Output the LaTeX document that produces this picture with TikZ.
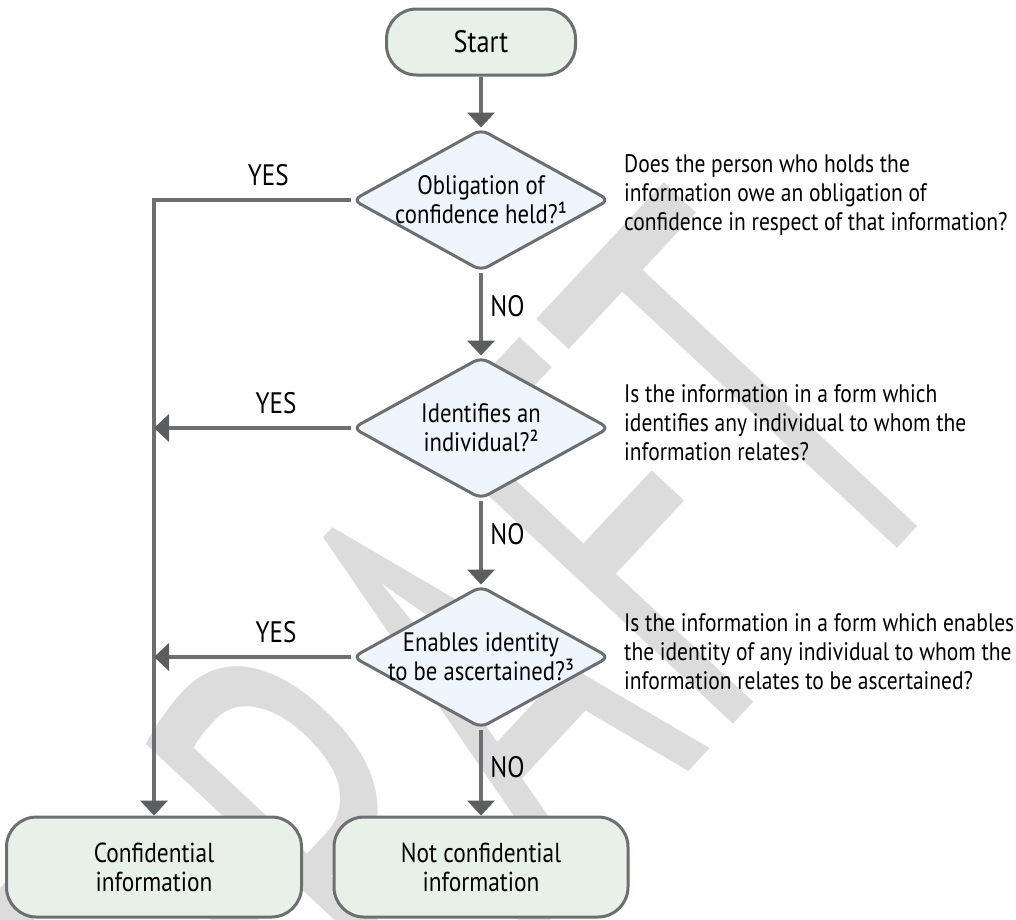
\documentclass[tikz,border=0pt]{standalone}
\usepackage{fontspec}
\setmainfont{PT Sans}[FakeStretch=0.85]
\newfontfamily\wmfont{PT Sans}[FakeStretch=0.6]
\usetikzlibrary{shapes.geometric,arrows.meta,positioning}
\definecolor{linegray}{HTML}{6D6E71}
\definecolor{tipgray}{HTML}{5B5D61}
\definecolor{askfill}{HTML}{EFF5FC}
\definecolor{endfill}{HTML}{E8F1E8}
\definecolor{wmgray}{HTML}{DCDCDC}
\tikzset{
  terminal/.style={draw=linegray, line width=3pt, fill=endfill, rounded corners=30pt,
    minimum height=66pt, align=center, font=\fontsize{27.5}{29}\selectfont},
  question/.style={diamond, aspect=1.81, draw=linegray, line width=3pt, fill=askfill, rounded corners=8pt,
    minimum width=257pt, minimum height=142pt, inner sep=-3pt, align=center,
    font=\fontsize{26.7}{29}\selectfont},
  note/.style={align=left, inner sep=0pt, yshift=5pt, font=\fontsize{25.3}{29}\selectfont},
  lbl/.style={font=\fontsize{29.6}{31}\selectfont},
  flow/.style={draw=linegray, line width=4pt, -{Triangle[width=27pt,length=15pt,color=tipgray]}},
  watermark/.style={text=wmgray, rotate=47, inner sep=0pt, font=\wmfont\fontsize{600}{600}\selectfont}
}
\begin{document}
\begin{tikzpicture}[x=1pt,y=-1pt]
  \useasboundingbox[fill=white] (0,0) rectangle (1016,919);
  \node[watermark] (draft) at (468,700) {DRAFT};

  \node[terminal, minimum width=189pt, font=\fontsize{31}{31}\selectfont] (start) at (481,42) {Start};
  \node[question] (oblig) at (481,200) {Obligation of\\confidence held?¹};
  \node[question] (ident) at (481,428) {Identifies an\\individual?²};
  \node[question] (ascert) at (481,657) {Enables identity\\to be ascertained?³};
  \node[terminal, minimum width=295pt, minimum height=100pt] (conf) at (154,867) {Confidential\\information};
  \node[terminal, minimum width=294pt, minimum height=100pt] (notconf) at (481,867) {Not confidential\\information};

  \node[note, right=13pt of oblig] (obligtxt) {Does the person who holds the\\information owe an obligation of\\confidence in respect of that information?};
  \node[note, right=13pt of ident] (identtxt) {Is the information in a form which\\identifies any individual to whom the\\information relates?};
  \node[note, right=13pt of ascert] (ascerttxt) {Is the information in a form which enables\\the identity of any individual to whom the\\information relates to be ascertained?};

  \coordinate (corner) at (conf.north |- oblig.west);
  \draw[flow] (start) -- (oblig);
  \draw[flow] (oblig) -- node[lbl, right=4pt, pos=0.4] {NO} (ident);
  \draw[flow] (ident) -- node[lbl, right=4pt, pos=0.4] {NO} (ascert);
  \draw[flow] (ascert) -- node[lbl, right=4pt, pos=0.44] {NO} (notconf);
  \draw[flow] (oblig.west) -- node[lbl, above=9pt, pos=0.42] {YES} (corner) -- (conf.north);
  \draw[flow] (ident.west) -- node[lbl, above=9pt, pos=0.38] {YES} (conf.north |- ident.west);
  \draw[flow] (ascert.west) -- node[lbl, above=9pt, pos=0.38] {YES} (conf.north |- ascert.west);
\end{tikzpicture}
\end{document}
